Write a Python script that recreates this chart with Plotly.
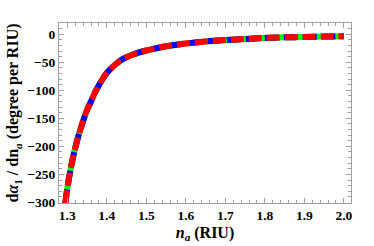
import plotly.graph_objects as go

n_a = [1.295, 1.30, 1.31, 1.32, 1.33, 1.34, 1.35, 1.36, 1.37, 1.38, 1.39, 1.40,
       1.42, 1.44, 1.46, 1.48, 1.50, 1.55, 1.60, 1.65, 1.70, 1.75, 1.80, 1.85,
       1.90, 1.95, 2.00]
sens = [-302, -275, -235, -203, -177, -155, -135, -120, -104, -91, -79, -69,
        -55, -44.5, -38, -33, -29, -21.5, -16.5, -13, -10.5, -8.5, -6.6, -5.6,
        -4.8, -4.2, -3.7]

x_ticks = [1.3, 1.4, 1.5, 1.6, 1.7, 1.8, 1.9, 2.0]
x_labels = ["1.3", "1.4", "1.5", "1.6", "1.7", "1.8", "1.9", "2.0"]
y_ticks = [0, -50, -100, -150, -200, -250, -300]

fig = go.Figure()
fig.add_trace(go.Scatter(x=n_a, y=sens, mode="lines", line=dict(color="#00ff00", width=6, shape="spline")))
fig.add_trace(go.Scatter(x=n_a, y=sens, mode="lines", line=dict(color="#0000ff", width=6, shape="spline", dash="14px,5px")))
fig.add_trace(go.Scatter(x=n_a, y=sens, mode="lines", line=dict(color="#ff0000", width=6, shape="spline", dash="13px,5px")))

font = dict(family="Liberation Serif", size=13.5, color="black")
tfont = dict(family="Liberation Serif", size=16, color="black")
axis_common = dict(showline=True, linecolor="#a0a0a0", linewidth=1, mirror="ticks",
                   ticks="inside", ticklen=5, tickcolor="#a0a0a0", showgrid=False,
                   zeroline=False, tickfont=font, automargin=False)

fig.update_layout(
    width=374, height=246,
    margin=dict(l=59, r=23, t=23, b=43),
    plot_bgcolor="white", paper_bgcolor="white",
    showlegend=False,
    xaxis=dict(range=[1.279, 2.018], tickvals=x_ticks, ticktext=["<b>%s</b>" % t for t in x_labels],
               minor=dict(dtick=0.02, ticks="inside", ticklen=3, tickcolor="#a0a0a0"),
               title=dict(text="<b><i>n<sub>a</sub></i> (RIU)</b>", font=tfont, standoff=4),
               **axis_common),
    yaxis=dict(range=[-301, 20], tickvals=y_ticks, ticktext=["<b>%s</b>" % ("\u2212%d" % -v if v < 0 else "0") for v in y_ticks],
               minor=dict(dtick=10, ticks="inside", ticklen=3, tickcolor="#a0a0a0"),
               title=dict(text="<b>d<i>\u03b1</i><sub>1</sub> / dn<sub><i>a</i></sub> (degree per RIU)</b>", font=tfont, standoff=4),
               **axis_common),
)
fig.write_html("out.html", config={"displayModeBar": False},
               post_script="document.body.style.margin='0';document.body.style.overflow='hidden';")
